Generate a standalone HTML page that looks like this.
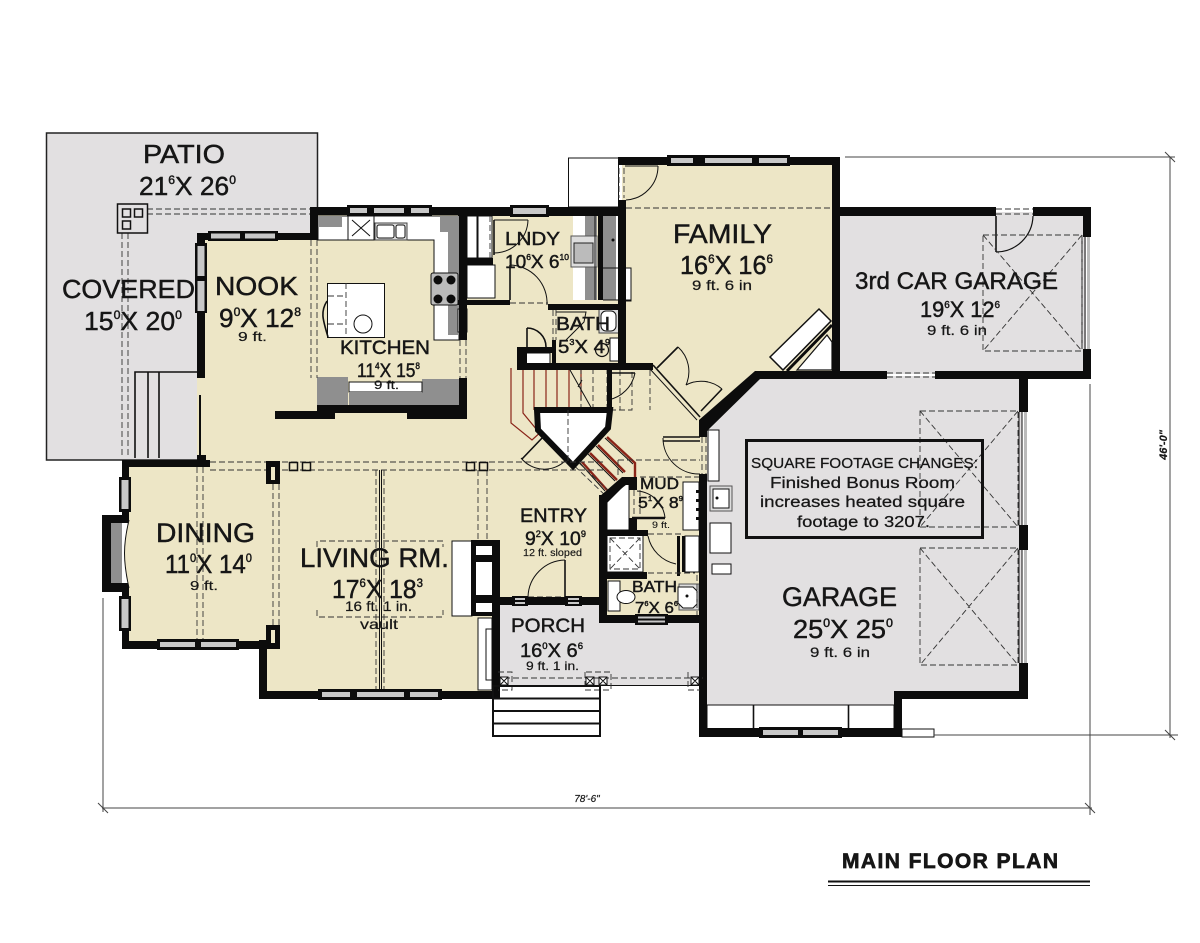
<!DOCTYPE html>
<html><head><meta charset="utf-8"><style>
html,body{margin:0;padding:0;background:#fff}
svg{display:block}
text{font-family:"Liberation Sans",sans-serif;fill:#161616;stroke:#161616;stroke-width:.45}
.d{fill:none;stroke:#333;stroke-width:.9;stroke-dasharray:6 3}
.t{fill:none;stroke:#111;stroke-width:1}
.m{fill:none;stroke:#111;stroke-width:1.6}
.k{fill:#0c0c0c;stroke:none}
.w{fill:#fff;stroke:#111;stroke-width:1}
.g{fill:#8f8f8f;stroke:none}
.r{fill:none;stroke:#8a2418;stroke-width:1.2}
.p{fill:#c8c8c8;stroke:none}
.dim{fill:none;stroke:#444;stroke-width:1}
</style></head><body>
<svg width="1200" height="943" viewBox="0 0 1200 943" xmlns="http://www.w3.org/2000/svg">
<rect width="1200" height="943" fill="#fff"/>
<!-- patio -->
<rect x="46.5" y="133" width="271" height="327" fill="#e2e0e1" stroke="#222" stroke-width="1.5"/>
<!-- cream -->
<path d="M204 238H315V214H622V162H835V376H757L703 432V625H600V604H495V694H265V645H125V463H204Z" fill="#ede6c6"/>
<rect x="197" y="378" width="8" height="80" fill="#ede6c6"/>
<rect x="699" y="437" width="10" height="37" fill="#ede6c6"/>
<!-- grays -->
<path d="M707 432L757 376H1022V695H898V733H703V474H707Z" fill="#e2e0e1"/>
<rect x="838" y="212" width="248" height="162" fill="#e2e0e1"/>
<path d="M497 604H601V620H703V685H497Z" fill="#e2e0e1"/>
<!-- garage strip -->
<rect x="707" y="705" width="187" height="24" fill="#fff" stroke="#111" stroke-width="1"/>
<path class="m" d="M753.500 705V729M848.500 705V729"/>
<rect x="710" y="486" width="22" height="25" fill="#ddd" stroke="#555"/><rect x="713" y="489" width="16" height="19" class="w"/><circle cx="717" cy="498" r="1.500" class="k"/>
<rect x="710" y="523" width="21" height="30" class="w"/>
<rect x="712" y="564" width="19" height="10" class="w"/>
<!-- white box top -->
<rect x="568.500" y="158" width="50" height="49" class="w"/>
<!-- patio stairs -->
<path d="M135 458V372H197M148 372V458M159 372V458" class="m"/>
<!-- kitchen counters -->
<path d="M318 216H459V340H434V240H318Z" fill="#fff" stroke="#111"/>
<rect x="318" y="216" width="24" height="11" class="g"/>
<path d="M440 216H459V335H448V232H440Z" class="g"/>
<rect x="348" y="216" width="26" height="24" class="w"/><path class="t" d="M352 220L370 236M370 220L352 236"/>
<rect x="375" y="223" width="32" height="17" fill="#ddd" stroke="#444"/><rect x="377" y="225" width="17" height="13" rx="2" class="w"/><rect x="396" y="225" width="9" height="13" rx="2" class="w"/>
<rect x="431" y="273" width="27" height="32" rx="2" fill="#bbb" stroke="#111"/>
<circle cx="438" cy="280" r="4.500" class="k"/><circle cx="451" cy="280" r="4.500" class="k"/><circle cx="438" cy="299" r="4.500" class="k"/><circle cx="451" cy="299" r="4.500" class="k"/>
<rect x="458" y="309" width="9" height="23" class="w"/>
<!-- island -->
<rect x="327.500" y="283.500" width="57" height="54" class="w" stroke-width="1.400"/>
<path class="m" d="M327 301C320 312 323 320 328 337"/>
<path d="M328 296H346M346 283V337M328 324H346" class="d"/>
<circle cx="363" cy="324" r="9" class="w"/>
<!-- kitchen lower counter -->
<rect x="317" y="377" width="31" height="29" class="g"/>
<rect x="422" y="379" width="37" height="33" class="g"/>
<rect x="349" y="382" width="73" height="10" class="w"/>
<rect x="349" y="392" width="73" height="13" class="g"/>
<!-- laundry -->
<rect x="467" y="216" width="10" height="42" class="w"/>
<rect x="478" y="216" width="14" height="42" class="w"/>
<rect x="467" y="265" width="28" height="33" class="w"/>
<rect x="573" y="216" width="24" height="84" fill="#fff"/>
<rect x="585" y="216" width="12" height="84" class="g"/>
<rect x="571" y="236" width="26" height="31" fill="#ddd" stroke="#555"/>
<rect x="574" y="243" width="19" height="20" fill="#bbb" stroke="#222"/>
<rect x="603" y="216" width="13" height="84" class="g"/>
<rect x="616" y="216" width="8" height="84" fill="#fff"/>
<rect x="625" y="268" width="6" height="33" class="w" stroke="#333"/>
<path class="t" d="M603 268H625M603 300H631M595 216V300"/>
<circle cx="613" cy="240" r="1.500" class="k"/>
<!-- bath1 fixtures -->
<rect x="599" y="309" width="21" height="24" fill="#ddd" stroke="#444"/>
<rect x="601" y="311" width="15" height="20" rx="5" class="w" stroke-width="1.400"/>
<rect x="610" y="338" width="10" height="23" class="w"/>
<circle cx="602" cy="350" r="6.500" stroke="#111" stroke-width="1.200" fill="none"/>
<path class="t" d="M556 312H586L584 322L566 340"/>
<path class="d" d="M553 310V340M556 310V340"/>
<!-- closet -->
<rect x="522" y="353" width="28" height="11" class="w"/>
<path d="M527 328V347M527 328A19 19 0 0 1 546 347" class="m"/>
<!-- stairs -->
<path class="r" d="M511 368V423L532 440L543 430M523 368V413L537 430M534 368V410M546 368V410M557 368V410M569 368V410M581 368V400"/>
<path class="d" d="M593 368V410M607 368V410M620 370V410M632 372V410H580M650 370V410M581 410V368"/>
<path class="t" d="M570 370L597 418M578 387L582 380"/>
<path d="M607 437L635 463V477M598 445L625 472M590 453L617 480M582 462L607 490" fill="none" stroke="#8a2418" stroke-width="2.400"/>
<path class="t" d="M605 438L633 464M596 446L623 473M588 454L615 481M580 463L605 491"/>
<path class="d" d="M542 435L607 497M546 432L612 494M618 460H700M640 477H699"/>
<!-- stair core -->
<path d="M537 410H610L608 428L573 466L538 430Z" fill="#fff" stroke="#0c0c0c" stroke-width="6"/>
<path class="d" d="M568 410V462"/>
<!-- doors -->
<path class="m" d="M544 436L522 459"/><path class="t" d="M521 458A30 30 0 0 0 566 460"/>
<path class="d" d="M619 168V198M624 168V198M626 208H832"/>
<path class="t" d="M625 166H658M658 166A34 34 0 0 1 626 200"/>
<path class="m" d="M494 220V255"/><path class="t" d="M494 220H528M528 220A34 34 0 0 1 494 253"/>
<path class="d" d="M490 216V258"/>
<path class="m" d="M510 265V300"/><path class="t" d="M510 265A38 38 0 0 1 547 305"/>
<path class="d" d="M510 303H548"/>
<path class="m" d="M611 373H635"/><path class="t" d="M635 373A34 34 0 0 1 608 400"/>
<path class="m" d="M657 368L678 347M701 411L722 389"/><path class="t" d="M678 347A33 33 0 0 1 686 385M722 389A32 32 0 0 0 686 385"/>
<path class="m" d="M653 365L700 417"/>
<path class="t" d="M650 369L697 420"/>
<rect x="708" y="430" width="11" height="51" class="w"/>
<path class="m" d="M663 437H700M663 441H700"/>
<path class="t" d="M663 438A36 36 0 0 0 700 474"/>
<path class="d" d="M618 460V477M702 437V474M706 437V474"/>
<!-- mud -->
<path d="M607 499L629 482V530H607Z" fill="#fff" stroke="#111"/>
<rect x="683" y="482" width="16" height="48" class="w"/>
<path class="k" d="M696 490h3v3h-3zM696 499h3v3h-3zM696 508h3v3h-3zM696 517h3v3h-3z"/>
<rect x="685" y="536" width="14" height="36" class="w"/>
<path class="k" d="M677 536h3v40h-3zM682 536h3v36h-3z"/>
<path class="t" d="M637 491A30 30 0 0 1 665 518"/>
<path class="d" d="M634 490V518M640 490V518M648 534H684"/>
<path class="m" d="M632 518H665" style="stroke-width:2.400"/>
<path class="t" d="M648 536A36 36 0 0 0 676 564"/>
<!-- bath2 -->
<rect x="607" y="535" width="36" height="37" fill="#fff" stroke="#111"/>
<path class="d" d="M610 538H640V569H610ZM610 538L640 569M640 538L610 569"/>
<rect x="608" y="581" width="12" height="30" class="w" stroke="#333"/>
<ellipse cx="626" cy="597" rx="9" ry="6.500" class="w"/>
<rect x="679" y="584" width="20" height="26" fill="#ddd" stroke="#555"/><path d="M680 587h15l4 4v13l-4 4h-10l-5-5z" class="w" transform="translate(-2 0)" stroke-width="1.300"/>
<circle cx="687" cy="596" r="1.500" class="k"/>
<path class="d" d="M648 573H695M697 575V615"/>
<!-- entry door -->
<path class="m" d="M565 560V597"/><path class="t" d="M565 560A38 38 0 0 0 528 597"/>
<path class="d" d="M528 597H565M528 604H565"/>
<!-- porch left -->
<rect x="478" y="618" width="14" height="72" class="w"/>
<rect x="486" y="629" width="6" height="51" class="w"/>
<!-- fireplace living -->
<rect x="452" y="541" width="20" height="75" class="w"/>
<rect x="471" y="540" width="28" height="76" class="k"/>
<rect x="476" y="546" width="17" height="9" fill="#fff"/>
<rect x="476" y="562" width="17" height="33" fill="#fff"/>
<rect x="476" y="603" width="17" height="9" fill="#fff"/>
<!-- dashed ceiling -->
<path class="d" d="M147 209H310M147 214H310M122 233V458M128 233V458"/>
<path class="d" d="M311 240V378M317 240V378M460 340V378M466 340V378"/>
<path class="d" d="M210 462H605M210 470H605"/>
<path class="d" d="M197 467V641M203 467V641M273 484V625M279 484V625"/>
<path class="t" d="M379.500 470V691M381.500 470V691"/><path class="d" d="M376 470V691M384 470V691"/>
<path class="d" d="M478 470V540M487 470V540"/>
<path class="d" d="M317 547V541H443V547M317 610V617H443V610"/>
<rect x="289.500" y="462.500" width="8" height="8" class="t" style="stroke-width:1.500"/>
<rect x="302.500" y="462.500" width="8" height="8" class="t" style="stroke-width:1.500"/>
<rect x="466.500" y="462.500" width="8" height="8" class="t" style="stroke-width:1.500"/>
<rect x="479.500" y="462.500" width="8" height="8" class="t" style="stroke-width:1.500"/>
<!-- patio post -->
<rect x="117.500" y="204" width="30" height="29" fill="none" stroke="#111" stroke-width="1.500"/>
<rect x="122.500" y="209" width="8" height="8" class="t" style="stroke-width:1.500"/>
<rect x="134.500" y="209" width="8" height="8" class="t" style="stroke-width:1.500"/>
<rect x="122.500" y="221" width="8" height="8" class="t" style="stroke-width:1.500"/>
<!-- family angled unit -->
<path d="M770 357L819 309L831 321L783 370Z" fill="#fff" stroke="#111" stroke-width="1.500"/>
<path d="M797 370L827 335L832 342V370Z" fill="#fff" stroke="#111" stroke-width="1.200"/>
<path d="M787 371L832 325" fill="none" stroke="#0c0c0c" stroke-width="3"/>
<!-- WALLS -->
<g class="k">
<rect x="310" y="207" width="160" height="8"/><rect x="310" y="207" width="8" height="33"/>
<rect x="197" y="233" width="121" height="7"/>
<rect x="197" y="233" width="8" height="145"/>
<rect x="199" y="395" width="2" height="60"/>
<rect x="459" y="207" width="8" height="133"/>
<rect x="458" y="207" width="160" height="9"/>
<rect x="618" y="157" width="222" height="8"/>
<rect x="618" y="200" width="8" height="170"/><rect x="618" y="157" width="8" height="8"/>
<rect x="832" y="157" width="8" height="221"/>
<rect x="832" y="207" width="164" height="9"/><rect x="1033" y="207" width="58" height="9"/>
<rect x="1083" y="207" width="8" height="30"/><rect x="1083" y="349" width="8" height="29"/>
<path d="M755 371H887V379H760L707 431V437H699V420Z"/><rect x="935" y="371" width="156" height="8"/>
<rect x="1019" y="378" width="9" height="34"/><rect x="1019" y="525" width="9" height="25"/><rect x="1019" y="663" width="9" height="36"/>
<rect x="894" y="691" width="134" height="8"/><rect x="894" y="691" width="8" height="46"/>
<rect x="699" y="728" width="203" height="9"/><rect x="699" y="474" width="8" height="263"/>
<rect x="599" y="615" width="101" height="8"/><rect x="599" y="495" width="8" height="128"/>
<path d="M599 497L622 477H637V485H625L607 503Z"/><rect x="629" y="477" width="8" height="13"/>
<rect x="607" y="530" width="41" height="6"/><rect x="629" y="518" width="8" height="18"/>
<rect x="607" y="572" width="40" height="7"/><rect x="497" y="597" width="103" height="8"/>
<rect x="492" y="540" width="8" height="159"/>
<rect x="259" y="691" width="240" height="8"/><rect x="259" y="640" width="8" height="59"/>
<rect x="122" y="641" width="158" height="8"/>
<rect x="122" y="460" width="88" height="7"/><rect x="122" y="460" width="7" height="189"/>
<rect x="266" y="461" width="14" height="23"/><rect x="266" y="625" width="14" height="24"/>
<rect x="102" y="515" width="27" height="77"/>
<rect x="275" y="411" width="60" height="8"/><rect x="317" y="405" width="142" height="8"/><rect x="407" y="411" width="60" height="8"/><rect x="459" y="378" width="8" height="41"/>
<rect x="458" y="300" width="52" height="5"/><rect x="467" y="258" width="26" height="7"/><rect x="548" y="304" width="72" height="6"/>
<rect x="552" y="340" width="4" height="30"/><rect x="598" y="216" width="5" height="84"/>
<rect x="517" y="363" width="136" height="7"/><rect x="517" y="347" width="10" height="23"/><rect x="517" y="347" width="36" height="6"/>
<rect x="607" y="370" width="5" height="42"/>
<rect x="197" y="455" width="9" height="10"/>
</g>
<!-- dining bay inserts -->
<rect x="111" y="523" width="11" height="60" class="g"/>
<path d="M122 523H128C125 545 125 561 128 583H122Z" fill="#fff"/>
<path d="M129 520C123 545 123 561 129 588" fill="#ede6c6" stroke="#111"/>
<!-- pier inserts -->
<rect x="271" y="467" width="4" height="13" fill="#ede6c6"/>
<rect x="271" y="630" width="4" height="13" fill="#ede6c6"/>
<!-- windows -->
<g>
<rect x="208" y="231" width="70" height="10" class="k"/><rect x="211" y="233.500" width="29" height="5" class="p"/><rect x="245" y="233.500" width="30" height="5" class="p"/>
<rect x="195" y="243" width="12" height="70" class="k"/><rect x="197.500" y="246" width="7" height="30" class="p"/><rect x="197.500" y="281" width="7" height="30" class="p"/>
<rect x="347" y="205" width="85" height="11" class="k"/><rect x="350" y="208" width="17" height="5" class="p"/><rect x="374" y="208" width="30" height="5" class="p"/><rect x="411" y="208" width="18" height="5" class="p"/>
<rect x="510" y="205" width="39" height="12" class="k"/><rect x="513" y="208" width="33" height="6" class="p"/>
<rect x="667" y="155" width="123" height="11" class="k"/><rect x="671" y="158" width="22" height="5" class="p"/><rect x="705" y="158" width="47" height="5" class="p"/><rect x="759" y="158" width="28" height="5" class="p"/>
<rect x="119" y="477" width="12" height="35" class="k"/><rect x="121.500" y="480" width="7" height="29" class="p"/>
<rect x="119" y="596" width="12" height="35" class="k"/><rect x="121.500" y="599" width="7" height="29" class="p"/>
<rect x="157" y="639" width="82" height="11" class="k"/><rect x="160" y="642" width="35" height="5" class="p"/><rect x="201" y="642" width="35" height="5" class="p"/>
<rect x="318" y="689" width="124" height="11" class="k"/><rect x="322" y="692" width="28" height="5" class="p"/><rect x="357" y="692" width="47" height="5" class="p"/><rect x="410" y="692" width="28" height="5" class="p"/>
<rect x="512" y="596" width="16" height="10" class="k"/><rect x="515" y="598" width="10" height="2" class="p"/><rect x="515" y="602" width="10" height="2" class="p"/>
<rect x="565" y="596" width="17" height="10" class="k"/><rect x="568" y="598" width="11" height="2" class="p"/><rect x="568" y="602" width="11" height="2" class="p"/>
<rect x="635" y="614" width="33" height="11" class="k"/><rect x="638" y="616.500" width="27" height="2" class="p"/><rect x="638" y="620.500" width="27" height="2" class="p"/>
<rect x="759" y="727" width="83" height="11" class="k"/><rect x="763" y="730" width="35" height="5" class="p"/><rect x="803" y="730" width="35" height="5" class="p"/>
<path class="t" d="M1082 237V349M1085 237V349"/><rect x="1087" y="237" width="3" height="112" fill="#bbb"/>
<path class="t" d="M1019 412V525M1022 412V525M1019 550V663M1022 550V663"/><rect x="1024" y="412" width="3" height="113" fill="#bbb"/><rect x="1024" y="550" width="3" height="113" fill="#bbb"/>
<rect x="902" y="729" width="32" height="8" class="w"/>
</g>
<!-- garage openings -->
<path class="d" d="M996 209H1033M996 214H1033M887 373H935M887 377H935"/>
<path class="m" d="M996 216V252"/><path class="m" d="M1033 216A37 37 0 0 1 996 252" style="stroke-width:1.200"/>
<path class="d" d="M983 235H1082V351H983ZM983 235L1082 351M1082 235L983 351"/>
<path class="d" d="M920 411H1018V527H920ZM920 411L1018 527M1018 411L920 527"/>
<path class="d" d="M920 548H1018V665H920ZM920 548L1018 665M1018 548L920 665"/>
<!-- porch posts -->
<path class="d" d="M504 678H703"/><path class="t" d="M497 685.500H700"/>
<g fill="#fff" stroke="#111">
<rect x="500" y="677" width="8" height="8"/><rect x="586" y="677" width="8" height="8"/><rect x="599" y="677" width="8" height="8"/><rect x="691" y="677" width="8" height="8"/>
</g>
<path class="t" d="M500 677l8 8M508 677l-8 8M586 677l8 8M594 677l-8 8M599 677l8 8M607 677l-8 8M691 677l8 8M699 677l-8 8"/>
<path class="d" d="M585 672V690H611V672H585ZM498 672H512V690H498M688 672V690H700"/>
<!-- steps -->
<path d="M493 686H600V736H493ZM493 698.500H600M493 711H600M493 723.500H600" fill="none" stroke="#111" stroke-width="2"/>
<!-- dimensions -->
<path class="dim" d="M103 598V812M102 808H1092M1090 384V815M845 157H1175M1170 157V738M934 735H1178"/>
<path class="dim" d="M98 803L108 813M1085 803L1095 813M1165 152L1175 162M1165 730L1175 740"/>
<text x="587" y="802" font-size="10" text-anchor="middle" font-style="italic" style="stroke-width:.2">78'-6"</text>
<text x="0" y="0" font-size="11" text-anchor="middle" font-style="italic" font-weight="bold" transform="translate(1167 445) rotate(-90)" style="stroke-width:.2">46'-0"</text>
<!-- note -->
<rect x="746.500" y="440.500" width="236" height="97" fill="none" stroke="#111" stroke-width="3"/>
<!-- labels -->
<g>
<text x="143" y="163" font-size="26" textLength="82" lengthAdjust="spacingAndGlyphs">PATIO</text>
<text x="139" y="195" font-size="26" textLength="97" lengthAdjust="spacingAndGlyphs">21<tspan dy="-11" font-size="12">6</tspan><tspan dy="11">X 26</tspan><tspan dy="-11" font-size="12">0</tspan></text>
<text x="62" y="298" font-size="26" textLength="133" lengthAdjust="spacingAndGlyphs">COVERED</text>
<text x="84" y="330" font-size="26" textLength="98" lengthAdjust="spacingAndGlyphs">15<tspan dy="-11" font-size="12">0</tspan><tspan dy="11">X 20</tspan><tspan dy="-11" font-size="12">0</tspan></text>
<text x="215" y="295" font-size="26" textLength="83" lengthAdjust="spacingAndGlyphs">NOOK</text>
<text x="219" y="327" font-size="26" textLength="82" lengthAdjust="spacingAndGlyphs">9<tspan dy="-11" font-size="12">0</tspan><tspan dy="11">X 12</tspan><tspan dy="-11" font-size="12">8</tspan></text>
<text x="238" y="341" font-size="13" textLength="29" lengthAdjust="spacingAndGlyphs" style="stroke-width:.2">9 ft.</text>
<text x="340" y="354" font-size="19" textLength="90" lengthAdjust="spacingAndGlyphs">KITCHEN</text>
<text x="357" y="377" font-size="19" textLength="63" lengthAdjust="spacingAndGlyphs">11<tspan dy="-8" font-size="9">4</tspan><tspan dy="8">X 15</tspan><tspan dy="-8" font-size="9">8</tspan></text>
<text x="374" y="389" font-size="12" textLength="25" lengthAdjust="spacingAndGlyphs" style="stroke-width:.2">9 ft.</text>
<text x="505" y="245" font-size="18" textLength="55" lengthAdjust="spacingAndGlyphs">LNDY</text>
<text x="505" y="268" font-size="18" textLength="64" lengthAdjust="spacingAndGlyphs">10<tspan dy="-8" font-size="8">6</tspan><tspan dy="8">X 6</tspan><tspan dy="-8" font-size="8">10</tspan></text>
<text x="556" y="330" font-size="18" textLength="54" lengthAdjust="spacingAndGlyphs">BATH</text>
<text x="558" y="353" font-size="18" textLength="52" lengthAdjust="spacingAndGlyphs">5<tspan dy="-8" font-size="8">3</tspan><tspan dy="8">X 4</tspan><tspan dy="-8" font-size="8">9</tspan></text>
<text x="673" y="243" font-size="27" textLength="99" lengthAdjust="spacingAndGlyphs">FAMILY</text>
<text x="680" y="274" font-size="26" textLength="93" lengthAdjust="spacingAndGlyphs">16<tspan dy="-11" font-size="12">6</tspan><tspan dy="11">X 16</tspan><tspan dy="-11" font-size="12">6</tspan></text>
<text x="692" y="290" font-size="14" textLength="60" lengthAdjust="spacingAndGlyphs" style="stroke-width:.2">9 ft. 6 in</text>
<text x="855" y="289" font-size="24" textLength="203" lengthAdjust="spacingAndGlyphs">3rd CAR GARAGE</text>
<text x="920" y="317" font-size="22" textLength="80" lengthAdjust="spacingAndGlyphs">19<tspan dy="-9" font-size="10">6</tspan><tspan dy="9">X 12</tspan><tspan dy="-9" font-size="10">6</tspan></text>
<text x="927" y="335" font-size="14" textLength="60" lengthAdjust="spacingAndGlyphs" style="stroke-width:.2">9 ft. 6 in</text>
<text x="156" y="542" font-size="27" textLength="99" lengthAdjust="spacingAndGlyphs">DINING</text>
<text x="165" y="573" font-size="26" textLength="87" lengthAdjust="spacingAndGlyphs">11<tspan dy="-11" font-size="12">0</tspan><tspan dy="11">X 14</tspan><tspan dy="-11" font-size="12">0</tspan></text>
<text x="190" y="590" font-size="13" textLength="28" lengthAdjust="spacingAndGlyphs" style="stroke-width:.2">9 ft.</text>
<text x="300" y="567" font-size="27" textLength="149" lengthAdjust="spacingAndGlyphs">LIVING RM.</text>
<text x="332" y="598" font-size="26" textLength="91" lengthAdjust="spacingAndGlyphs">17<tspan dy="-11" font-size="12">6</tspan><tspan dy="11">X 18</tspan><tspan dy="-11" font-size="12">3</tspan></text>
<text x="345" y="611" font-size="14" textLength="67" lengthAdjust="spacingAndGlyphs" style="stroke-width:.2">16 ft. 1 in.</text>
<text x="360" y="629" font-size="14" textLength="38" lengthAdjust="spacingAndGlyphs" style="stroke-width:.2">vault</text>
<text x="520" y="522" font-size="19" textLength="67" lengthAdjust="spacingAndGlyphs">ENTRY</text>
<text x="525" y="545" font-size="19" textLength="61" lengthAdjust="spacingAndGlyphs">9<tspan dy="-8" font-size="9">2</tspan><tspan dy="8">X 10</tspan><tspan dy="-8" font-size="9">9</tspan></text>
<text x="523" y="556" font-size="10.500" textLength="59" lengthAdjust="spacingAndGlyphs" style="stroke-width:.15">12 ft. sloped</text>
<text x="640" y="489" font-size="16" textLength="39" lengthAdjust="spacingAndGlyphs">MUD</text>
<text x="638" y="508" font-size="16" textLength="45" lengthAdjust="spacingAndGlyphs">5<tspan dy="-7" font-size="7">1</tspan><tspan dy="7">X 8</tspan><tspan dy="-7" font-size="7">9</tspan></text>
<text x="652" y="528" font-size="9" textLength="18" lengthAdjust="spacingAndGlyphs" style="stroke-width:.1">9 ft.</text>
<text x="632" y="592" font-size="16" textLength="45" lengthAdjust="spacingAndGlyphs">BATH</text>
<text x="635" y="613" font-size="16" textLength="43" lengthAdjust="spacingAndGlyphs">7<tspan dy="-7" font-size="7">6</tspan><tspan dy="7">X 6</tspan><tspan dy="-7" font-size="7">6</tspan></text>
<text x="511" y="632" font-size="19" textLength="74" lengthAdjust="spacingAndGlyphs">PORCH</text>
<text x="520" y="657" font-size="19" textLength="63" lengthAdjust="spacingAndGlyphs">16<tspan dy="-8" font-size="9">0</tspan><tspan dy="8">X 6</tspan><tspan dy="-8" font-size="9">6</tspan></text>
<text x="526" y="670" font-size="12" textLength="53" lengthAdjust="spacingAndGlyphs" style="stroke-width:.2">9 ft. 1 in.</text>
<text x="782" y="606" font-size="27" textLength="115" lengthAdjust="spacingAndGlyphs">GARAGE</text>
<text x="793" y="638" font-size="26" textLength="100" lengthAdjust="spacingAndGlyphs">25<tspan dy="-11" font-size="12">0</tspan><tspan dy="11">X 25</tspan><tspan dy="-11" font-size="12">0</tspan></text>
<text x="810" y="657" font-size="14" textLength="60" lengthAdjust="spacingAndGlyphs" style="stroke-width:.2">9 ft. 6 in</text>
<text x="751" y="468" font-size="14.500" textLength="227" lengthAdjust="spacingAndGlyphs" style="stroke-width:.25">SQUARE FOOTAGE CHANGES:</text>
<text x="770" y="488" font-size="15.500" textLength="185" lengthAdjust="spacingAndGlyphs" style="stroke-width:.25">Finished Bonus Room</text>
<text x="760" y="507" font-size="15.500" textLength="205" lengthAdjust="spacingAndGlyphs" style="stroke-width:.25">increases heated square</text>
<text x="797" y="527" font-size="15.500" textLength="133" lengthAdjust="spacingAndGlyphs" style="stroke-width:.25">footage to 3207.</text>
<text x="842" y="868" font-size="21" font-weight="bold" textLength="216" lengthAdjust="spacing" style="stroke-width:.7">MAIN FLOOR PLAN</text>
</g>
<path d="M828 881.500H1090" stroke="#111" stroke-width="2" fill="none"/>
<path d="M828 885.500H1090" stroke="#111" stroke-width="1" fill="none"/>
</svg>
</body></html>
